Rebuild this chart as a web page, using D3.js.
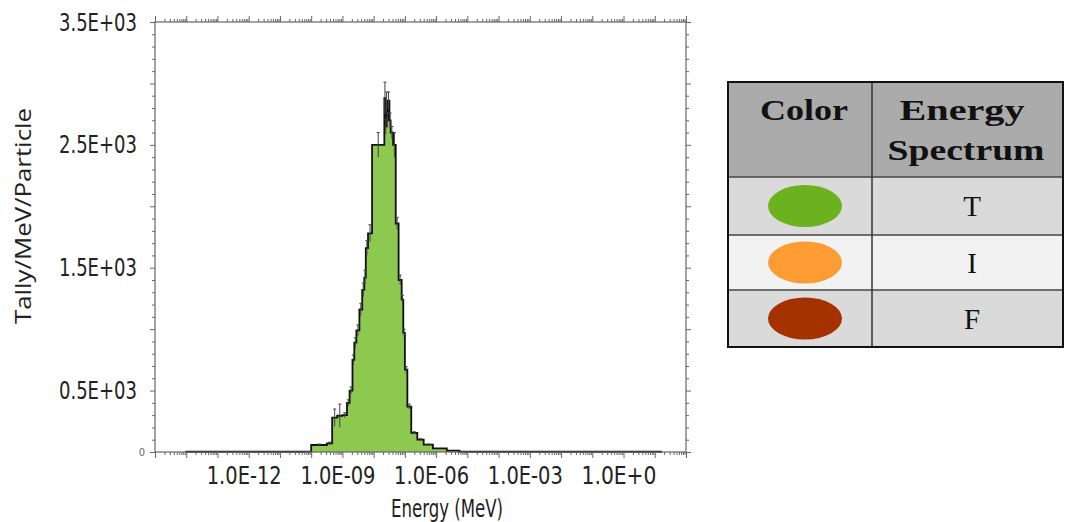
<!DOCTYPE html>
<html>
<head>
<meta charset="utf-8">
<script src="https://cdn.jsdelivr.net/npm/d3@7"></script>
<style>
  body { margin: 0; background: #fff; }
  svg { display: block; }
</style>
</head>
<body>
<div id="chart"></div>
<script>
// histogram bin edges (MeV) and tally per bin
const binEdges = [1.0e-14, 1.0e-10, 3.2e-10, 4.7e-10, 6.8e-10, 1.0e-9, 1.4e-9, 1.7e-9, 2.1e-9, 2.4e-9,
  2.8e-9, 3.5e-9, 4.3e-9, 5.0e-9, 5.6e-9, 6.6e-9, 8.9e-9, 2.2e-8, 2.4e-8, 2.5e-8, 2.7e-8, 2.8e-8,
  3.2e-8, 3.5e-8, 4.2e-8, 5.1e-8, 6.3e-8, 7.9e-8, 8.9e-8, 1.0e-7, 1.2e-7, 1.6e-7, 2.5e-7, 4.0e-7,
  7.9e-7, 2.2e-6, 5.6e-6, 1.7e+1];
const tally = [2, 57, 70, 280, 295, 300, 400, 500, 750, 890,
  990, 1160, 1320, 1420, 1660, 1780, 2500, 2880, 2650, 2850, 2700,
  2860, 2700, 2600, 2500, 1860, 1400, 1240, 970, 670, 370, 155, 100,
  60, 30, 12, 2];
const tallyErr = [0, 8, 10, 70, 95, 20, 25, 30, 40, 40,
  45, 50, 55, 60, 60, 70, 100, 130, 60, 80, 60,
  70, 60, 50, 100, 50, 40, 35, 30, 25, 20, 10, 8,
  5, 4, 2, 0];

const yTickValues = [500, 1500, 2500, 3500];
const yTickLabels = ["0.5E+03", "1.5E+03", "2.5E+03", "3.5E+03"];
const xTickValues = [1e-12, 1e-9, 1e-6, 1e-3, 1];
const xTickLabels = ["1.0E-12", "1.0E-09", "1.0E-06", "1.0E-03", "1.0E+0"];

// legend table
const legendColors = ["#6cb21f", "#fd9c33", "#a53100"];
const legendLabels = ["T", "I", "F"];
const rowFills = ["#dadada", "#f2f2f2", "#dadada"];

const W = 1065, H = 522;
const plot = { left: 155, right: 686, top: 22, bottom: 452 };

const svg = d3.select("#chart").append("svg")
  .attr("width", W).attr("height", H)
  .style("background", "#fff");

const x = d3.scaleLog().domain([1e-15, 1e2]).range([plot.left, plot.right]);
const y = d3.scaleLinear().domain([0, 3500]).range([plot.bottom, plot.top]);

const tickFont = "'DejaVu Sans Condensed', 'DejaVu Sans', sans-serif";
const axisColor = "#666";

// minor ticks for the log axis
var decades = d3.range(-15, 3).map(e => Math.pow(10, e));
var minorX = [];
decades.forEach(d => {
  for (let m = 2; m <= 9; m++) {
    if (d * m < 1e2) minorX.push(d * m);
  }
});
var minorY = d3.range(0, 3501, 100).filter(v => v % 500 != 0);
var midY = d3.range(0, 3501, 500);

// histogram area + step outline
var steps = [];
tally.forEach((v, i) => {
  steps.push([binEdges[i], v]);
  steps.push([binEdges[i + 1], v]);
});

svg.append("path")
  .datum(steps)
  .attr("fill", "#8dc84f")
  .attr("d", d3.area()
    .x(d => x(d[0]))
    .y0(y(0))
    .y1(d => y(d[1])));

svg.append("path")
  .datum([[binEdges[0], 0]].concat(steps))
  .attr("fill", "none")
  .attr("stroke", "#111")
  .attr("stroke-width", 1.8)
  .attr("d", d3.line()
    .x(d => x(d[0]))
    .y(d => y(d[1])));

// error bars
var errG = svg.append("g").attr("stroke", "#444").attr("stroke-width", 1);
tally.forEach((v, i) => {
  if (tallyErr[i] < 5) return;
  var cx = x(Math.sqrt(binEdges[i] * binEdges[i + 1]));
  errG.append("line")
    .attr("x1", cx).attr("x2", cx)
    .attr("y1", y(v - tallyErr[i])).attr("y2", y(v + tallyErr[i]));
  errG.append("line")
    .attr("x1", cx - 1.5).attr("x2", cx + 1.5)
    .attr("y1", y(v + tallyErr[i])).attr("y2", y(v + tallyErr[i]));
});

// frame
svg.append("rect")
  .attr("x", plot.left).attr("y", plot.top)
  .attr("width", plot.right - plot.left).attr("height", plot.bottom - plot.top)
  .attr("fill", "none").attr("stroke", axisColor).attr("stroke-width", 1.2);

function styleAxis(g) {
  g.select(".domain").remove();
  g.selectAll("line").attr("stroke", axisColor);
}

// bottom axis
svg.append("g")
  .attr("transform", `translate(0,${plot.bottom})`)
  .call(d3.axisBottom(x).tickValues(minorX).tickSize(3).tickFormat(""))
  .call(styleAxis);
svg.append("g")
  .attr("transform", `translate(0,${plot.bottom})`)
  .call(d3.axisBottom(x).tickValues(decades).tickSize(6).tickFormat(""))
  .call(styleAxis);
var xLab = svg.append("g")
  .attr("transform", `translate(0,${plot.bottom})`)
  .call(d3.axisBottom(x).tickValues(xTickValues).tickSize(0).tickPadding(14)
    .tickFormat((d, i) => xTickLabels[i]));
xLab.select(".domain").remove();
xLab.selectAll("text")
  .style("font-family", tickFont)
  .style("font-size", "25px")
  .attr("fill", "#222")
  .attr("dx", -5)
  .attr("textLength", 75)
  .attr("lengthAdjust", "spacingAndGlyphs");

// top axis
svg.append("g")
  .attr("transform", `translate(0,${plot.top})`)
  .call(d3.axisTop(x).tickValues(minorX).tickSize(3).tickFormat(""))
  .call(styleAxis);
svg.append("g")
  .attr("transform", `translate(0,${plot.top})`)
  .call(d3.axisTop(x).tickValues(decades).tickSize(6).tickFormat(""))
  .call(styleAxis);

// left axis
svg.append("g")
  .attr("transform", `translate(${plot.left},0)`)
  .call(d3.axisLeft(y).tickValues(minorY).tickSize(3).tickFormat(""))
  .call(styleAxis);
svg.append("g")
  .attr("transform", `translate(${plot.left},0)`)
  .call(d3.axisLeft(y).tickValues(midY).tickSize(5).tickFormat(""))
  .call(styleAxis);
var yLab = svg.append("g")
  .attr("transform", `translate(${plot.left},0)`)
  .call(d3.axisLeft(y).tickValues(yTickValues).tickSize(0).tickPadding(18)
    .tickFormat((d, i) => yTickLabels[i]));
yLab.select(".domain").remove();
yLab.selectAll("text")
  .style("font-family", tickFont)
  .style("font-size", "25px")
  .attr("fill", "#222")
  .attr("textLength", 78)
  .attr("lengthAdjust", "spacingAndGlyphs");

// the little zero label
svg.append("text")
  .attr("x", plot.left - 10).attr("y", y(0))
  .attr("dy", "0.35em")
  .attr("text-anchor", "end")
  .attr("font-family", tickFont)
  .attr("font-size", 11)
  .attr("fill", "#666")
  .text("0");

// right axis
svg.append("g")
  .attr("transform", `translate(${plot.right},0)`)
  .call(d3.axisRight(y).tickValues(minorY).tickSize(3).tickFormat(""))
  .call(styleAxis);
svg.append("g")
  .attr("transform", `translate(${plot.right},0)`)
  .call(d3.axisRight(y).tickValues(midY).tickSize(5).tickFormat(""))
  .call(styleAxis);

// axis titles
svg.append("text")
  .attr("x", 447).attr("y", 517)
  .style("font-family", tickFont)
  .style("font-size", "24px")
  .attr("text-anchor", "middle")
  .attr("fill", "#222")
  .attr("textLength", 112)
  .attr("lengthAdjust", "spacingAndGlyphs")
  .text("Energy (MeV)");

svg.append("text")
  .attr("transform", "translate(31,216)rotate(-90)")
  .attr("text-anchor", "middle")
  .attr("font-family", "'Open Sans', sans-serif")
  .attr("font-size", 22)
  .attr("fill", "#222")
  .attr("textLength", 216)
  .attr("lengthAdjust", "spacingAndGlyphs")
  .text("Tally/MeV/Particle");

// ---- legend table ----
const tx = [728, 872, 1063];
const ty = [82, 177, 235, 290, 347];
var tbl = svg.append("g");

tbl.append("rect")
  .attr("x", tx[0]).attr("y", ty[0])
  .attr("width", tx[2] - tx[0]).attr("height", ty[1] - ty[0])
  .attr("fill", "#ababab");

legendLabels.forEach((lab, i) => {
  tbl.append("rect")
    .attr("x", tx[0]).attr("y", ty[i + 1])
    .attr("width", tx[2] - tx[0]).attr("height", ty[i + 2] - ty[i + 1])
    .attr("fill", rowFills[i]);
  var cy = (ty[i + 1] + ty[i + 2]) / 2;
  tbl.append("ellipse")
    .attr("cx", 805).attr("cy", cy)
    .attr("rx", 37).attr("ry", 21)
    .attr("fill", legendColors[i]);
  tbl.append("text")
    .attr("x", 972).attr("y", cy + 10)
    .attr("text-anchor", "middle")
    .attr("font-family", "'Liberation Serif', serif")
    .attr("font-size", 29)
    .attr("fill", "#111")
    .text(lab);
});

// grid lines
ty.slice(1, 4).forEach(v => {
  tbl.append("line")
    .attr("x1", tx[0]).attr("x2", tx[2])
    .attr("y1", v).attr("y2", v)
    .attr("stroke", "#444").attr("stroke-width", 1.5);
});
tbl.append("line")
  .attr("x1", tx[1]).attr("x2", tx[1])
  .attr("y1", ty[0]).attr("y2", ty[4])
  .attr("stroke", "#333").attr("stroke-width", 1.5);
tbl.append("rect")
  .attr("x", tx[0]).attr("y", ty[0])
  .attr("width", tx[2] - tx[0]).attr("height", ty[4] - ty[0])
  .attr("fill", "none").attr("stroke", "#111").attr("stroke-width", 2);

// header text
var hdr = [
  { t: "Color", x: 804, y: 120, w: 88 },
  { t: "Energy", x: 962, y: 120, w: 125 },
  { t: "Spectrum", x: 966, y: 160, w: 157 }
];
hdr.forEach(h => {
  tbl.append("text")
    .attr("x", h.x).attr("y", h.y)
    .attr("text-anchor", "middle")
    .attr("font-family", "'Liberation Serif', serif")
    .attr("font-weight", "bold")
    .attr("font-size", 30)
    .attr("fill", "#111")
    .attr("textLength", h.w)
    .attr("lengthAdjust", "spacingAndGlyphs")
    .text(h.t);
});
</script>
</body>
</html>
